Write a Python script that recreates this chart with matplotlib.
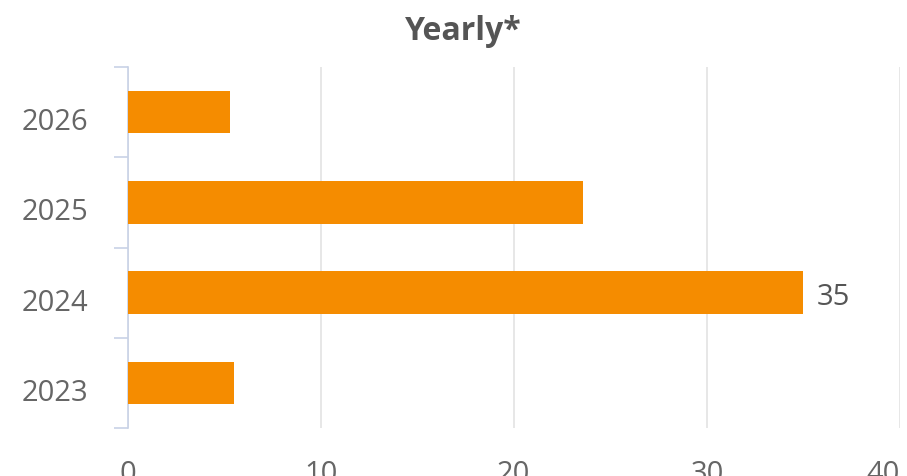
import matplotlib.pyplot as plt
import matplotlib.transforms as mtransforms
import numpy as np

years = ['2023', '2024', '2025', '2026']
counts = [5.5, 35, 23.6, 5.3]
labelled = {'2024': '35'}
x_ticks = [0, 10, 20, 30, 40]

plt.rcParams['font.family'] = ['Open Sans', 'DejaVu Sans']

fig = plt.figure(figsize=(9.07, 4.77), dpi=100)
ax = fig.add_axes([0.1406, 0.1005, 0.8517, 0.757])

pos = np.arange(len(years))
ax.barh(pos, counts, height=0.47, color='#F58C00', zorder=3)

for i, y in enumerate(years):
    if y in labelled:
        ax.text(counts[i] + 0.7, i - 0.04, labelled[y], va='center', ha='left',
                fontsize=21, color='#555555')

ax.set_xlim(0, 40)
ax.set_ylim(-0.5, len(years) - 0.5)

# value gridlines
ax.set_xticks(x_ticks)
ax.set_xticklabels([str(t) for t in x_ticks])
ax.grid(axis='x', color='#e3e3e3', linewidth=1.2, zorder=0)
ax.tick_params(axis='x', length=0, pad=22, labelsize=21, labelcolor='#666666')
ax.get_xticklabels()[-1].set_ha('right')

# category axis with ticks between categories
ax.set_yticks(pos)
ax.set_yticklabels(years)
ax.set_yticks(np.arange(-0.5, len(years), 1), minor=True)
ax.tick_params(axis='y', which='major', length=0, pad=28, labelsize=21,
               labelcolor='#666666')
ax.tick_params(axis='y', which='minor', length=10, width=1.2, color='#c8d2e6')

# nudge category labels slightly below the bar centres
shift = mtransforms.ScaledTranslation(0, -6 / 100, fig.dpi_scale_trans)
for lbl in ax.get_yticklabels():
    lbl.set_transform(lbl.get_transform() + shift)

for side in ['top', 'right', 'bottom']:
    ax.spines[side].set_visible(False)
ax.spines['left'].set_color('#c8d2e6')
ax.spines['left'].set_linewidth(1.2)

fig.text(463 / 907, 1 - 32 / 477, 'Yearly*', ha='center', va='center',
         fontsize=23, fontweight='bold', color='#555555')

fig.savefig('out.png', dpi=100)
